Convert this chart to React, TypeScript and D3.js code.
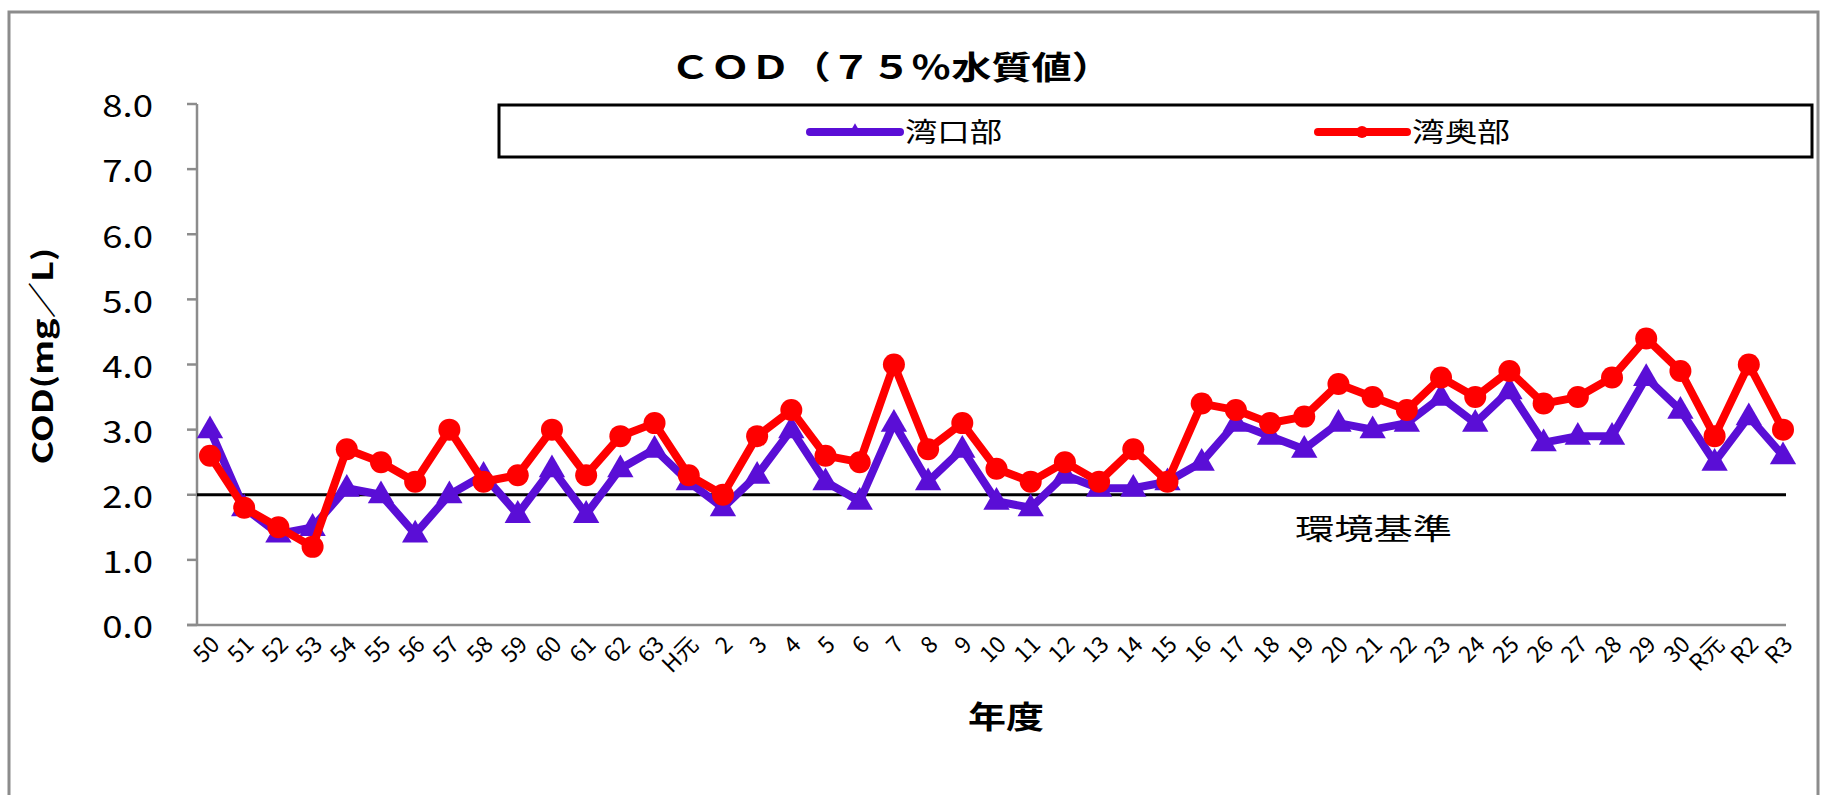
import React from "react";
import * as d3 from "d3";

const categories: string[] = [
  "50", "51", "52", "53", "54", "55", "56", "57", "58", "59", "60", "61", "62", "63",
  "H元",
  "2", "3", "4", "5", "6", "7", "8", "9", "10", "11", "12", "13", "14", "15", "16",
  "17", "18", "19", "20", "21", "22", "23", "24", "25", "26", "27", "28", "29", "30",
  "R元", "R2", "R3",
];

// 湾口部
const wankoubu: number[] = [
  3.0, 1.8, 1.4, 1.5, 2.1, 2.0, 1.4, 2.0, 2.3, 1.7, 2.4, 1.7, 2.4, 2.7,
  2.2,
  1.8, 2.3, 3.0, 2.2, 1.9, 3.1, 2.2, 2.7, 1.9, 1.8, 2.3, 2.1, 2.1, 2.2, 2.5,
  3.1, 2.9, 2.7, 3.1, 3.0, 3.1, 3.5, 3.1, 3.6, 2.8, 2.9, 2.9, 3.8, 3.3,
  2.5, 3.2, 2.6,
];

// 湾奥部
const wanoubu: number[] = [
  2.6, 1.8, 1.5, 1.2, 2.7, 2.5, 2.2, 3.0, 2.2, 2.3, 3.0, 2.3, 2.9, 3.1,
  2.3,
  2.0, 2.9, 3.3, 2.6, 2.5, 4.0, 2.7, 3.1, 2.4, 2.2, 2.5, 2.2, 2.7, 2.2, 3.4,
  3.3, 3.1, 3.2, 3.7, 3.5, 3.3, 3.8, 3.5, 3.9, 3.4, 3.5, 3.8, 4.4, 3.9,
  2.9, 4.0, 3.0,
];

const yTicks: number[] = [0, 1, 2, 3, 4, 5, 6, 7, 8];
const standardValue = 2.0;

const seriesNames = ["湾口部", "湾奥部"];
const titleText = "ＣＯＤ（７５％水質値）";
const yLabel = "COD(mg／L)";
const xLabel = "年度";
const standardLabel = "環境基準";

const PURPLE = "#5a0ed6";
const RED = "#ff0000";
const AXIS = "#8c8c8c";
const FONT = "'Noto Sans CJK JP', 'Noto Sans', sans-serif";

export default function App() {
  const W = 1828;
  const H = 795;
  const axisX = 197;
  const axisRight = 1786;
  const y = d3.scaleLinear().domain([0, 8]).range([625, 104]);
  const x = d3.scalePoint<string>().domain(categories).range([210, 1783]);

  const line = d3
    .line<number>()
    .x((_, i) => x(categories[i]) as number)
    .y((d) => y(d));

  const tri = d3.symbol().type(d3.symbolTriangle).size(300)();
  const triSmall = d3.symbol().type(d3.symbolTriangle).size(80)();

  return (
    <div style={{ position: "absolute", left: 0, top: 0 }}>
      <svg width={W} height={H} style={{ display: "block", background: "#fff" }} fontFamily={FONT}>
        <rect x={0} y={0} width={W} height={H} fill="#fff" />
        {/* outer border */}
        <rect x={9} y={12} width={1809} height={800} fill="none" stroke={AXIS} strokeWidth={3} />

        {/* title */}
        <text
          x={670}
          y={79}
          fontSize={32}
          fontWeight="bold"
          textLength={442}
          lengthAdjust="spacingAndGlyphs"
          fill="#000"
        >
          {titleText}
        </text>

        {/* legend */}
        <rect x={499} y={105} width={1313} height={52} fill="#fff" stroke="#000" strokeWidth={3} />
        <line x1={810} x2={900} y1={132} y2={132} stroke={PURPLE} strokeWidth={8} strokeLinecap="round" />
        <path d={triSmall as string} transform="translate(855,131)" fill={PURPLE} />
        <text x={905} y={142} fontSize={27} textLength={97} lengthAdjust="spacingAndGlyphs" fill="#000">
          {seriesNames[0]}
        </text>
        <line x1={1318} x2={1407} y1={132} y2={132} stroke={RED} strokeWidth={8} strokeLinecap="round" />
        <circle cx={1362} cy={132} r={6} fill={RED} />
        <text x={1412} y={142} fontSize={27} textLength={98} lengthAdjust="spacingAndGlyphs" fill="#000">
          {seriesNames[1]}
        </text>

        {/* y axis */}
        <line x1={axisX} x2={axisX} y1={y(8)} y2={y(0)} stroke={AXIS} strokeWidth={2.5} />
        {yTicks.map((t) => (
          <g key={t}>
            <line x1={axisX - 10} x2={axisX} y1={y(t)} y2={y(t)} stroke={AXIS} strokeWidth={2.5} />
            <text
              transform={`translate(153,${y(t)}) scale(1.18,1)`}
              textAnchor="end"
              dominantBaseline="central"
              fontSize={31}
              fill="#000"
            >
              {t.toFixed(1)}
            </text>
          </g>
        ))}
        <text
          transform={`translate(41,356) rotate(-90)`}
          textAnchor="middle"
          dominantBaseline="central"
          fontSize={28}
          fontWeight="bold"
          textLength={217}
          lengthAdjust="spacingAndGlyphs"
          fill="#000"
        >
          {yLabel}
        </text>

        {/* x axis */}
        <line x1={axisX - 10} x2={axisRight} y1={y(0)} y2={y(0)} stroke={AXIS} strokeWidth={2.5} />
        {categories.map((c) => (
          <g key={c} transform={`translate(${(x(c) as number) + 4},${y(0) + 14})`}>
            <text
              transform="rotate(-45)"
              x={0}
              y={0}
              textAnchor="end"
              dominantBaseline="central"
              fontSize={23}
              fill="#000"
            >
              {c}
            </text>
          </g>
        ))}
        <text
          x={1006}
          y={728}
          textAnchor="middle"
          fontSize={31}
          fontWeight="bold"
          textLength={76}
          lengthAdjust="spacingAndGlyphs"
          fill="#000"
        >
          {xLabel}
        </text>

        {/* standard line */}
        <line x1={axisX} x2={axisRight} y1={y(standardValue)} y2={y(standardValue)} stroke="#000" strokeWidth={3} />
        <text x={1295} y={540} fontSize={29} textLength={157} lengthAdjust="spacingAndGlyphs" fill="#000">
          {standardLabel}
        </text>

        {/* 湾口部 series */}
        <path d={line(wankoubu) as string} fill="none" stroke={PURPLE} strokeWidth={8} strokeLinejoin="round" />
        {wankoubu.map((v, i) => (
          <path
            key={"p" + i}
            d={tri as string}
            transform={`translate(${x(categories[i])},${y(v) + 1})`}
            fill={PURPLE}
          />
        ))}

        {/* 湾奥部 series */}
        <path d={line(wanoubu) as string} fill="none" stroke={RED} strokeWidth={8} strokeLinejoin="round" />
        {wanoubu.map((v, i) => (
          <circle key={"r" + i} cx={x(categories[i]) as number} cy={y(v)} r={11} fill={RED} />
        ))}
      </svg>
    </div>
  );
}
